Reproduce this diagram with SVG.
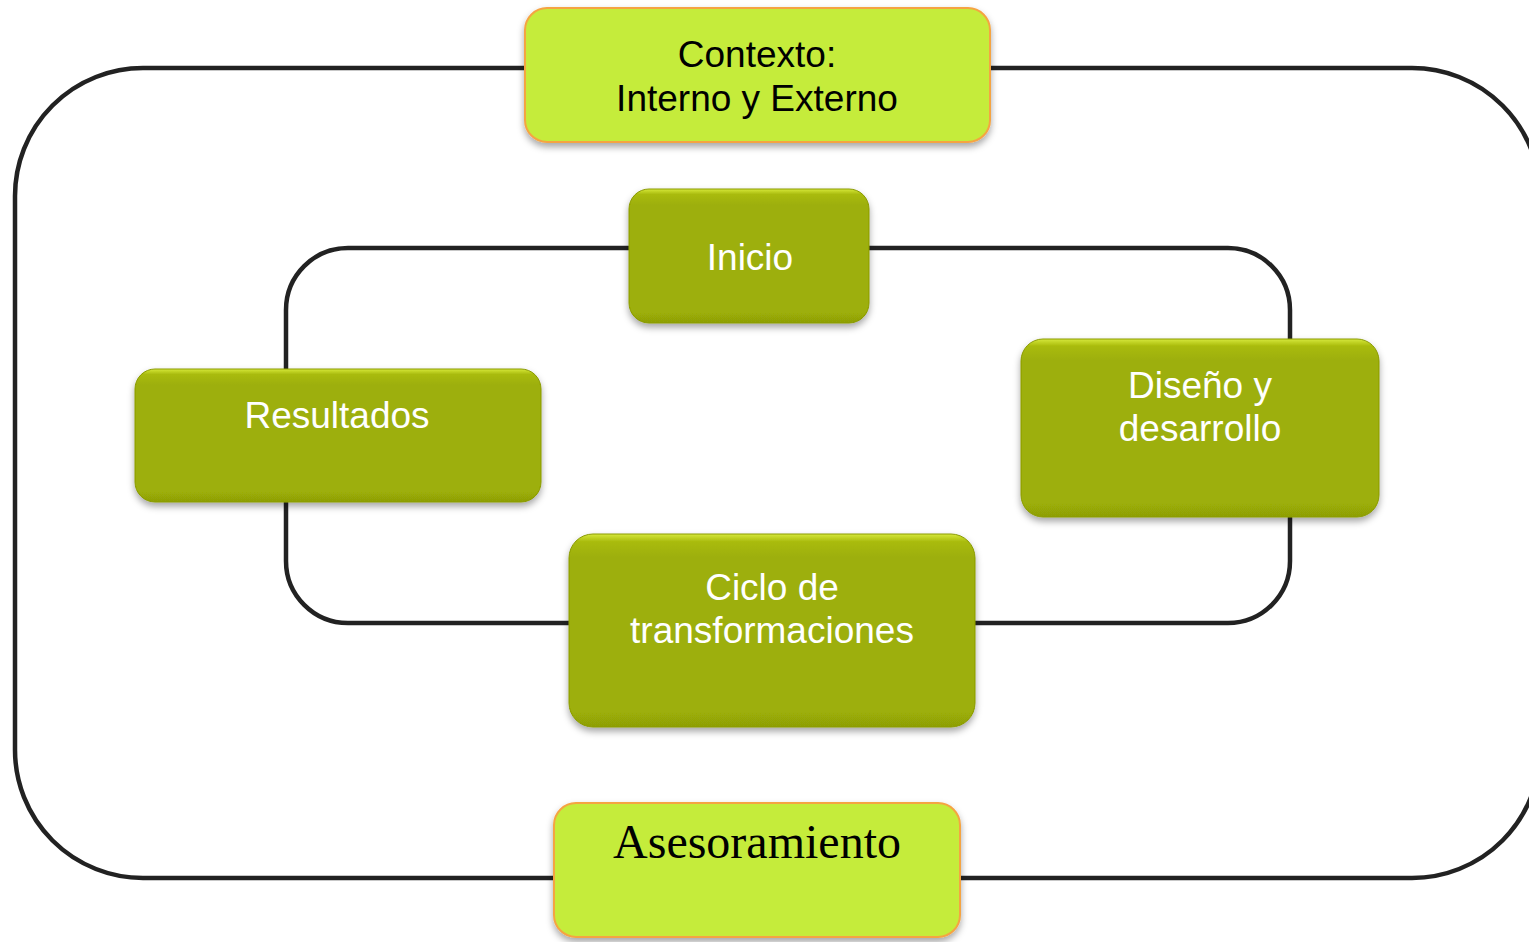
<svg xmlns="http://www.w3.org/2000/svg" width="1529" height="942" viewBox="0 0 1529 942">
<style>
.loop{fill:none;stroke:#222;stroke-width:4.5}
.ctx{fill:#c5ec3a;stroke:#f5a443;stroke-width:2}
.stage{fill:url(#olive);stroke:#8a9a06;stroke-width:1}
.lbl{font-family:"Liberation Sans",Arial,sans-serif;font-size:37px;text-anchor:middle;fill:#fff}
.dark{fill:#000}
.serif{font-family:"Liberation Serif","Times New Roman",serif;font-size:48px;text-anchor:middle;fill:#000}
</style>
<defs>
<linearGradient id="olive" x1="0" y1="0" x2="0" y2="1">
<stop offset="0" stop-color="#d6e83a"/>
<stop offset="0.04" stop-color="#a9bb0c"/>
<stop offset="0.12" stop-color="#9daf07"/>
<stop offset="0.92" stop-color="#9daf07"/>
<stop offset="1" stop-color="#8d9e06"/>
</linearGradient>
<filter id="sh" x="-10%" y="-10%" width="120%" height="130%">
<feDropShadow dx="0" dy="4" stdDeviation="3.5" flood-color="#000" flood-opacity="0.35"/>
</filter>
</defs>
<rect width="1529" height="942" fill="#fff"/>
<g id="connectors">
<rect class="loop" x="15" y="68" width="1525" height="810" rx="128" ry="128"/>
<rect class="loop" x="286" y="248" width="1004" height="375" rx="62" ry="62"/>
</g>
<g id="contexto">
<rect class="ctx" x="525" y="8" width="465" height="134" rx="22" filter="url(#sh)"/>
<text class="lbl dark" x="757" y="67">Contexto:</text>
<text class="lbl dark" x="757" y="111">Interno y Externo</text>
</g>
<g id="inicio">
<rect class="stage" x="629" y="189" width="240" height="134" rx="20" filter="url(#sh)"/>
<text class="lbl" x="750" y="270">Inicio</text>
</g>
<g id="resultados">
<rect class="stage" x="135" y="369" width="406" height="133" rx="20" filter="url(#sh)"/>
<text class="lbl" x="337" y="428">Resultados</text>
</g>
<g id="diseno">
<rect class="stage" x="1021" y="339" width="358" height="178" rx="22" filter="url(#sh)"/>
<text class="lbl" x="1200" y="398">Diseño y</text>
<text class="lbl" x="1200" y="441">desarrollo</text>
</g>
<g id="ciclo">
<rect class="stage" x="569" y="534" width="406" height="193" rx="24" filter="url(#sh)"/>
<text class="lbl" x="772" y="600">Ciclo de</text>
<text class="lbl" x="772" y="643">transformaciones</text>
</g>
<g id="asesoramiento">
<rect class="ctx" x="554" y="803" width="406" height="134" rx="22" filter="url(#sh)"/>
<text class="serif" x="757" y="858">Asesoramiento</text>
</g>
</svg>
